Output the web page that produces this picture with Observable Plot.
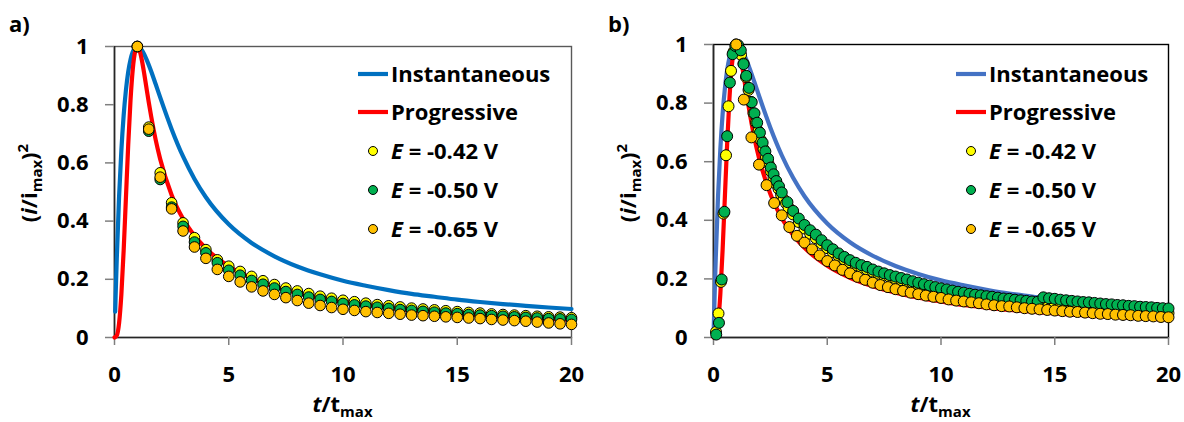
<!DOCTYPE html>
<html>
<head>
<meta charset="utf-8">
<script src="https://cdn.jsdelivr.net/npm/d3@7"></script>
<script src="https://cdn.jsdelivr.net/npm/@observablehq/plot@0.6"></script>
<style>
  body { margin: 0; background: #fff; }
  #root { position: relative; width: 1184px; height: 422px; overflow: hidden; background: #fff; }
  #pa, #pb, #ov { position: absolute; top: 0; }
  #pa { left: 0; }
  #pb { left: 592px; }
  #ov { left: 0; pointer-events: none; }
  text { font-family: 'Open Sans', sans-serif; }
</style>
</head>
<body>
<div id="root">
  <div id="pa"></div>
  <div id="pb"></div>
  <svg id="ov" width="1184" height="422"></svg>
</div>
<script>
// ---------- data ----------
const xTicks = [0, 5, 10, 15, 20];
const yTicks = [0, 0.2, 0.4, 0.6, 0.8, 1];

// theoretical curves (Scharifker–Hills)
const instT = [0.05,0.1,0.2,0.3,0.4,0.5,0.6,0.7,0.8,0.9,1.0,1.2,1.4,1.6,1.8,2.0,2.5,3,3.5,4,5,6,7,8,9,10,11,12,13,14,15,16,17,18,19,20];
const instV = [0.145,0.272,0.483,0.642,0.762,0.850,0.913,0.955,0.982,0.996,1.000,0.987,0.956,0.916,0.871,0.825,0.716,0.622,0.545,0.482,0.389,0.325,0.279,0.244,0.217,0.195,0.178,0.163,0.150,0.140,0.130,0.122,0.115,0.109,0.103,0.098];
const instStartA = [0.03, 0.089];
const instStartB = [0.01, 0.031];
const progT = [0,0.1,0.2,0.3,0.4,0.5,0.6,0.7,0.8,0.9,1.0,1.1,1.2,1.3,1.4,1.5,1.6,1.8,2.0,2.5,3,3.5,4,5,6,7,8,9,10,11,12,13,14,15,16,17,18,19,20];
const progV = [0,0.007,0.049,0.147,0.298,0.480,0.661,0.814,0.922,0.982,1.000,0.986,0.952,0.907,0.857,0.808,0.762,0.680,0.613,0.490,0.408,0.350,0.306,0.245,0.204,0.175,0.153,0.136,0.123,0.111,0.102,0.094,0.088,0.082,0.077,0.072,0.068,0.064,0.061];

// panel a) experimental points
const tA = [1,1.5,2,2.5,3,3.5,4,4.5,5,5.5,6,6.5,7,7.5,8,8.5,9,9.5,10,10.5,11,11.5,12,12.5,13,13.5,14,14.5,15,15.5,16,16.5,17,17.5,18,18.5,19,19.5,20];
const a042 = [1.000,0.723,0.566,0.463,0.394,0.343,0.302,0.267,0.245,0.227,0.210,0.195,0.182,0.170,0.160,0.151,0.142,0.135,0.128,0.123,0.118,0.113,0.109,0.105,0.101,0.098,0.095,0.092,0.089,0.086,0.084,0.081,0.079,0.077,0.075,0.073,0.071,0.070,0.068];
const a050 = [1.000,0.709,0.543,0.448,0.382,0.328,0.291,0.257,0.231,0.214,0.196,0.183,0.170,0.158,0.148,0.139,0.131,0.124,0.117,0.112,0.108,0.104,0.100,0.096,0.093,0.090,0.087,0.084,0.082,0.079,0.077,0.075,0.073,0.071,0.069,0.067,0.065,0.064,0.062];
const a065 = [1.000,0.716,0.551,0.442,0.366,0.311,0.272,0.234,0.210,0.191,0.174,0.160,0.148,0.137,0.127,0.118,0.110,0.103,0.097,0.093,0.089,0.086,0.083,0.080,0.077,0.075,0.073,0.071,0.069,0.067,0.065,0.062,0.060,0.058,0.056,0.053,0.050,0.047,0.045];

// panel b) experimental points
const tB042 = [0.11,0.22,0.33,0.44,0.55,0.66,0.77,0.88,0.99,1.10,1.21,1.32,1.43,1.54,1.65,1.76,1.87,1.98,2.09,2.20,2.31,2.42,2.53,2.64,2.75,2.86,2.97,3.08,3.19,3.30,
  3.5,3.75,4,4.25,4.5,4.75,5,5.25,5.5,5.75,6,6.25,6.5,6.75,7,7.25,7.5,7.75,8,8.25,8.5,8.75,9,9.25,9.5,9.75,10,10.25,10.5,10.75,11,11.25,11.5,11.75,12,12.25,12.5,12.75,13,13.25,13.5,13.75,14,14.25,14.5,14.75,15,15.25,15.5,15.75,16,16.25,16.5,16.75,17,17.25,17.5,17.75,18,18.25,18.5,18.75,19,19.25,19.5,19.75,20];
const b042 = [0.019,0.082,0.190,0.423,0.622,0.789,0.910,0.975,1.000,0.990,0.965,0.935,0.889,0.845,0.804,0.765,0.733,0.704,0.673,0.643,0.616,0.593,0.566,0.545,0.524,0.507,0.488,0.472,0.458,0.444,
  0.420,0.394,0.372,0.354,0.339,0.321,0.305,0.291,0.278,0.266,0.256,0.247,0.239,0.232,0.225,0.218,0.212,0.206,0.201,0.196,0.191,0.186,0.181,0.176,0.172,0.167,0.163,0.159,0.155,0.152,0.148,0.145,0.142,0.139,0.136,0.134,0.131,0.128,0.126,0.124,0.122,0.119,0.117,0.115,0.114,0.112,0.110,0.108,0.106,0.105,0.103,0.101,0.100,0.098,0.097,0.096,0.094,0.093,0.092,0.090,0.089,0.088,0.087,0.086,0.085,0.084,0.083];
const tB050 = [0.12,0.24,0.36,0.48,0.60,0.72,0.84,0.96,1.08,1.20,1.32,1.44,1.56,1.68,1.80,1.92,2.04,2.16,2.28,2.40,2.52,2.64,2.76,2.88,3.00,
  3.25,3.5,3.75,4,4.25,4.5,4.75,5,5.25,5.5,5.75,6,6.25,6.5,6.75,7,7.25,7.5,7.75,8,8.25,8.5,8.75,9,9.25,9.5,9.75,10,10.25,10.5,10.75,11,11.25,11.5,11.75,12,12.25,12.5,12.75,13,13.25,13.5,13.75,14,14.25,14.5,14.75,15,15.25,15.5,15.75,16,16.25,16.5,16.75,17,17.25,17.5,17.75,18,18.25,18.5,18.75,19,19.25,19.5,19.75,20];
const b050 = [0.010,0.050,0.198,0.429,0.687,0.870,0.967,0.995,0.998,0.980,0.933,0.893,0.852,0.803,0.765,0.733,0.699,0.665,0.635,0.610,0.580,0.557,0.534,0.516,0.495,
  0.462,0.432,0.406,0.384,0.366,0.351,0.332,0.315,0.301,0.287,0.275,0.264,0.255,0.247,0.241,0.232,0.225,0.219,0.213,0.208,0.203,0.198,0.192,0.187,0.182,0.177,0.172,0.168,0.164,0.160,0.156,0.153,0.149,0.146,0.144,0.141,0.139,0.136,0.133,0.132,0.129,0.127,0.125,0.123,0.122,0.137,0.134,0.132,0.129,0.127,0.125,0.123,0.121,0.120,0.118,0.116,0.114,0.113,0.111,0.110,0.108,0.107,0.105,0.104,0.103,0.101,0.100,0.099];
const tB065 = [1,1.333,1.667,2,2.333,2.667,3,3.333,3.667,4,4.333,4.667,5,5.333,5.667,6,6.333,6.667,7,7.333,7.667,8,8.333,8.667,9,9.333,9.667,10,10.333,10.667,11,11.333,11.667,12,12.333,12.667,13,13.333,13.667,14,14.333,14.667,15,15.333,15.667,16,16.333,16.667,17,17.333,17.667,18,18.333,18.667,19,19.333,19.667,20];
const b065 = [1.000,0.812,0.683,0.590,0.520,0.459,0.417,0.377,0.347,0.324,0.301,0.280,0.261,0.246,0.231,0.219,0.207,0.197,0.187,0.179,0.172,0.165,0.159,0.153,0.148,0.143,0.139,0.135,0.130,0.126,0.123,0.120,0.117,0.113,0.110,0.107,0.106,0.103,0.100,0.098,0.096,0.094,0.092,0.090,0.088,0.087,0.085,0.083,0.081,0.080,0.078,0.077,0.076,0.074,0.073,0.072,0.070,0.069];

const seriesNames = ["Instantaneous", "Progressive", "-0.42", "-0.50", "-0.65"];

// ---------- styling ----------
const C = { blueA: "#0070C0", blueB: "#4472C4", red: "#FF0000", yellow: "#FFFF00", green: "#00B050", orange: "#FFC000" };
const FONT = "'Open Sans', sans-serif";

const zip = (ts, vs) => ts.map((t, i) => ({ t, v: vs[i] }));

function panel({ ml, mr, mt, mb, blue, instStart, dots, frameColor, r }) {
  const inst = zip([instStart[0], ...instT], [instStart[1], ...instV]);
  const prog = zip(progT, progV);
  return Plot.plot({
    width: 592, height: 422,
    marginLeft: ml, marginRight: mr, marginTop: mt, marginBottom: mb,
    x: { domain: [0, 20] },
    y: { domain: [0, 1] },
    style: { fontFamily: FONT, fontSize: "22px", fontWeight: "bold", color: "#000", background: "transparent" },
    marks: [
      Plot.frame({ stroke: frameColor, strokeWidth: 1.4 }),
      Plot.ruleY([0], { stroke: "#262626", strokeWidth: 1.6 }),
      Plot.ruleX([0], { stroke: "#262626", strokeWidth: 1.6 }),
      Plot.axisX({ ticks: xTicks, tickSize: 8, tickPadding: 21, stroke: "#7f7f7f", strokeWidth: 1.5, fill: "#000", label: null, tickFormat: d3.format("d") }),
      Plot.axisY({ ticks: yTicks, tickSize: 9, tickPadding: 17, stroke: "#7f7f7f", strokeWidth: 1.5, fill: "#000", label: null, tickFormat: d => String(+d.toFixed(1)) }),
      Plot.line(inst, { x: "t", y: "v", stroke: blue, strokeWidth: 4.2, curve: "monotone-x" }),
      Plot.line(prog, { x: "t", y: "v", stroke: C.red, strokeWidth: 4.2, curve: "monotone-x" }),
      ...dots.map(([ts, vs, col]) => Plot.dot(zip(ts, vs), { x: "t", y: "v", r, fill: col, stroke: "#000", strokeWidth: 1 }))
    ]
  });
}

document.getElementById("pa").append(panel({
  ml: 114, mr: 21, mt: 46, mb: 85, blue: C.blueA, instStart: instStartA, frameColor: "#595959", r: 5.3,
  dots: [[tA, a042, C.yellow], [tA, a050, C.green], [tA, a065, C.orange]]
}));
document.getElementById("pb").append(panel({
  ml: 121, mr: 16, mt: 44, mb: 85, blue: C.blueB, instStart: instStartB, frameColor: "#000", r: 5.5,
  dots: [[tB042, b042, C.yellow], [tB050, b050, C.green], [tB065, b065, C.orange]]
}));

// ---------- overlay texts: panel labels, axis titles, legends ----------
const ov = d3.select("#ov");
const base = s => s.attr("font-family", FONT).attr("font-weight", "bold").attr("fill", "#000");

function decorate(dx, blue, xCenter, legendX) {
  // panel label
  base(ov.append("text")).attr("x", 9 + dx).attr("y", 32).attr("font-size", 22).text(dx ? "b)" : "a)");
  // y title
  const yt = base(ov.append("text")).attr("transform", `translate(${37 + dx},183) rotate(-90)`).attr("text-anchor", "middle").attr("font-size", 22);
  yt.append("tspan").text("(");
  yt.append("tspan").attr("font-style", "italic").text("i");
  yt.append("tspan").text("/i");
  yt.append("tspan").attr("font-size", 15).attr("dy", 5).text("max");
  yt.append("tspan").attr("dy", -5).text(")");
  yt.append("tspan").attr("font-size", 15).attr("dy", -9).text("2");
  // x title
  const xt = base(ov.append("text")).attr("x", xCenter).attr("y", 412).attr("text-anchor", "middle").attr("font-size", 22);
  xt.append("tspan").attr("font-style", "italic").text("t");
  xt.append("tspan").text("/t");
  xt.append("tspan").attr("font-size", 15).attr("dy", 5).text("max");
  // legend
  const rows = [74, 112, 151, 190, 229];
  const lineCols = [blue, C.red];
  const dotCols = [C.yellow, C.green, C.orange];
  rows.forEach((yy, i) => {
    if (i < 2) {
      ov.append("line").attr("x1", legendX).attr("x2", legendX + 30).attr("y1", yy).attr("y2", yy)
        .attr("stroke", lineCols[i]).attr("stroke-width", 4.2);
      base(ov.append("text")).attr("x", legendX + 33).attr("y", yy + 8).attr("font-size", 22).text(seriesNames[i]);
    } else {
      ov.append("circle").attr("cx", legendX + 15).attr("cy", yy).attr("r", 4.5)
        .attr("fill", dotCols[i - 2]).attr("stroke", "#000").attr("stroke-width", 1);
      const t = base(ov.append("text")).attr("x", legendX + 33).attr("y", yy + 8).attr("font-size", 22);
      t.append("tspan").attr("font-style", "italic").text("E");
      t.append("tspan").text(" = " + seriesNames[i] + " V");
    }
  });
}
decorate(0, C.blueA, 342.5, 358);
decorate(599, C.blueB, 940.5, 956);
</script>
</body>
</html>
